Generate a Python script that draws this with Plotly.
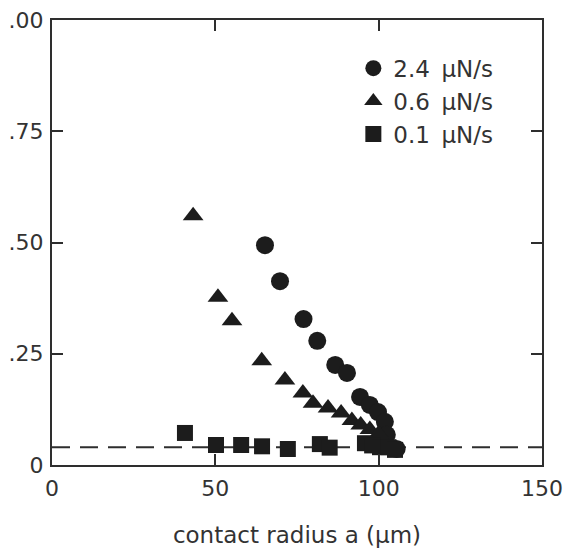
import plotly.graph_objects as go

# Loading rate series: contact radius a (um) vs. measured value
radius_24 = [65.2, 69.8, 77.0, 81.2, 86.7, 90.3, 94.3, 97.3, 99.8, 101.9, 102.5, 105.5]
value_24 = [0.494, 0.413, 0.328, 0.279, 0.225, 0.207, 0.153, 0.135, 0.119, 0.097, 0.068, 0.036]

radius_06 = [43.2, 50.8, 55.1, 64.2, 71.3, 76.8, 79.9, 84.5, 88.5, 91.8, 94.5, 97.3, 100.0]
value_06 = [0.560, 0.377, 0.324, 0.234, 0.191, 0.162, 0.139, 0.128, 0.117, 0.100, 0.090, 0.080, 0.070]

radius_01 = [40.7, 50.2, 57.9, 64.3, 72.2, 82.0, 85.0, 95.8, 98.0, 100.4, 103.0, 105.0]
value_01 = [0.072, 0.045, 0.045, 0.042, 0.036, 0.047, 0.039, 0.049, 0.044, 0.040, 0.040, 0.034]

series_labels = ["2.4\u2002μN/s", "0.6\u2002μN/s", "0.1\u2002μN/s"]
baseline_level = 0.04

x_ticks = [0, 50, 100, 150]
x_tick_text = ["0", "50", "100", "150"]
y_ticks = [0, 0.25, 0.5, 0.75, 1.0]
y_tick_text = ["0", ".25", ".50", ".75", ".00"]

INK = "#1c1c1c"
AXIS = "#2e2e2e"
TEXT = "#333333"
FONT = "'DejaVu Sans', sans-serif"

fig = go.Figure()

fig.add_trace(go.Scatter(
    x=radius_24, y=value_24, mode="markers", name=series_labels[0],
    marker=dict(symbol="circle", size=18, color=INK, line=dict(width=0)),
    legendgroup="a",
))
fig.add_trace(go.Scatter(
    x=radius_06, y=value_06, mode="markers", name=series_labels[1],
    marker=dict(symbol="triangle-up", size=18, color=INK, line=dict(width=0)),
    legendgroup="b",
))
fig.add_trace(go.Scatter(
    x=radius_01, y=value_01, mode="markers", name=series_labels[2],
    marker=dict(symbol="square", size=16, color=INK, line=dict(width=0)),
    legendgroup="c",
))

# dashed baseline across the full width
fig.add_shape(
    type="line", xref="paper", x0=0, x1=1, yref="y", y0=baseline_level, y1=baseline_level,
    line=dict(color=AXIS, width=2, dash="18px,10px"), layer="below",
)

axis_common = dict(
    showline=True, linewidth=2, linecolor=AXIS, mirror="ticks",
    ticks="inside", ticklen=11, tickwidth=2, tickcolor=AXIS,
    showgrid=False, zeroline=False,
    tickfont=dict(family=FONT, size=22, color=TEXT),
)

fig.update_xaxes(
    range=[0, 150], tickmode="array", tickvals=x_ticks, ticktext=x_tick_text,
    title=dict(text="contact radius a (μm)", font=dict(family=FONT, size=23, color=TEXT),
               standoff=26),
    ticklabelstandoff=3,
    **axis_common,
)
fig.update_yaxes(
    range=[0, 1], tickmode="array", tickvals=y_ticks, ticktext=y_tick_text,
    ticklabelstandoff=2,
    **axis_common,
)

fig.update_layout(
    width=570, height=548,
    margin=dict(l=52, r=28, t=20, b=83, autoexpand=False),
    paper_bgcolor="white", plot_bgcolor="white",
    font=dict(family=FONT, color=TEXT),
    showlegend=True,
    legend=dict(
        x=0.615, y=0.94, xanchor="left", yanchor="top",
        bgcolor="rgba(0,0,0,0)", borderwidth=0,
        font=dict(family=FONT, size=23, color=TEXT),
        tracegroupgap=0, itemsizing="trace",
    ),
)

fig.write_html("out.html")
